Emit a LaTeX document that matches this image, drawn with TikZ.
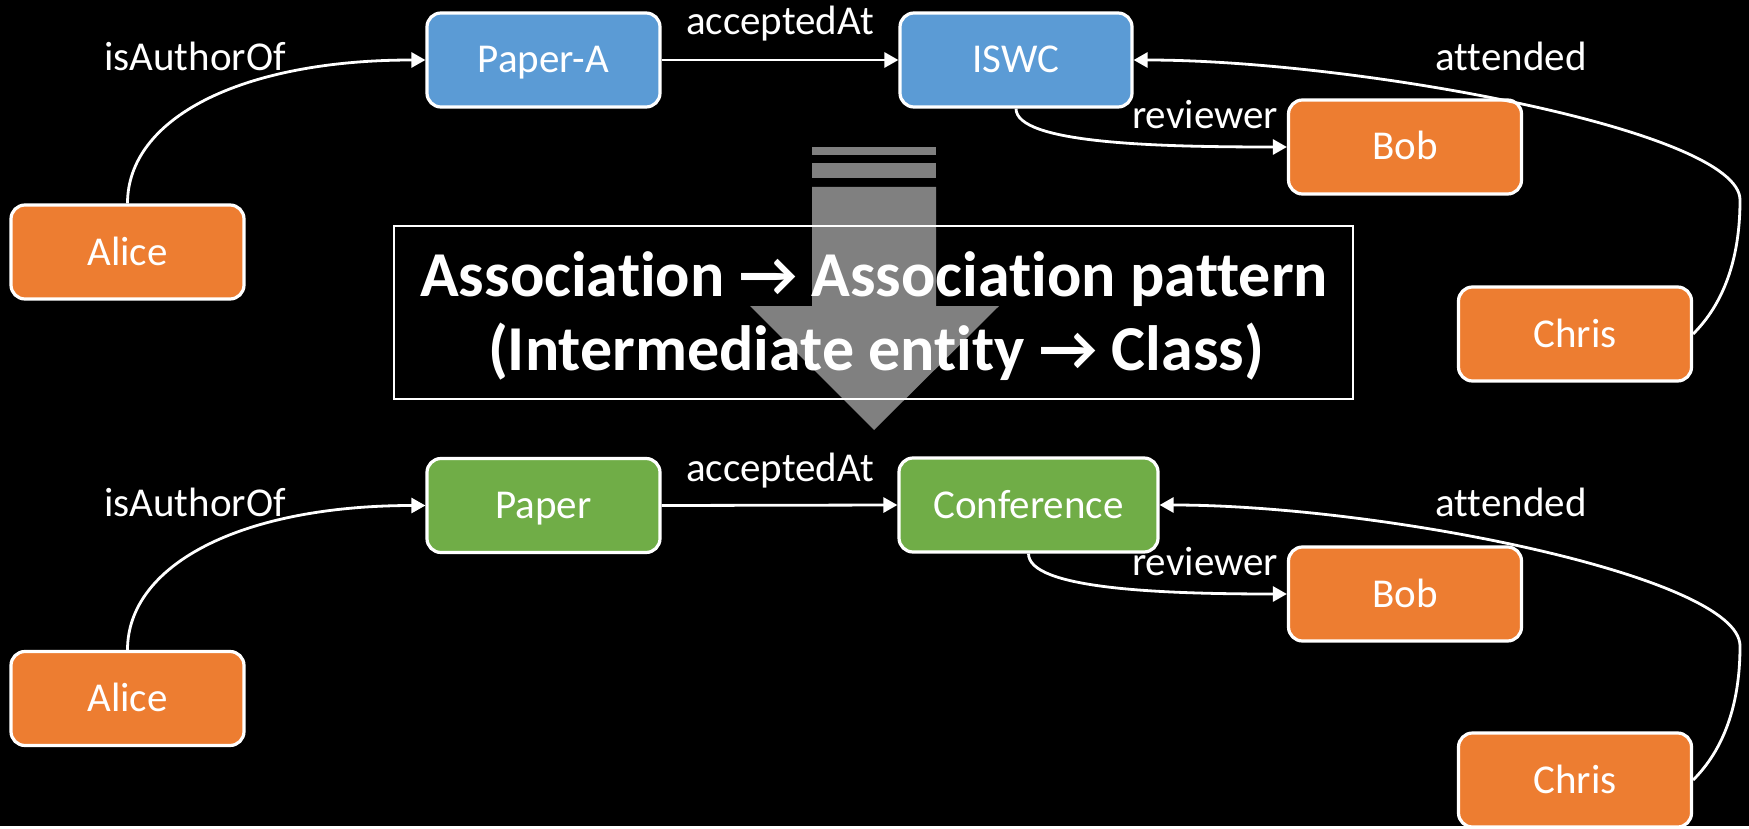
\documentclass[tikz,border=0pt]{standalone}
\usepackage{fontspec}
\setmainfont{Carlito}[Ligatures=NoCommon]
\usetikzlibrary{arrows.meta}
\definecolor{nblue}{RGB}{91,155,213}
\definecolor{norange}{RGB}{237,125,49}
\definecolor{ngreen}{RGB}{112,173,71}
\begin{document}
\begin{tikzpicture}[x=0.5pt,y=0.5pt,
  ent/.style={draw=white, line width=1.6pt, rounded corners=7pt, minimum width=116.5pt, minimum height=47pt, text=white, font=\fontsize{20.5}{24}\selectfont, text height=13pt, text depth=0pt, inner sep=0pt},
  cblue/.style={fill=nblue},
  corange/.style={fill=norange},
  cgreen/.style={fill=ngreen},
  lbl/.style={text=white, font=\fontsize{20.5}{24}\selectfont, anchor=base, inner sep=0pt},
  arr/.style={draw=white, line width=1.4pt, -{Triangle[length=7pt,width=7.5pt]}},
  ttl/.style={text=white, font=\fontsize{32}{38}\selectfont\bfseries, anchor=base, inner sep=0pt},
  grayarrow/.style={fill=white, fill opacity=0.5}
]
\fill[black] (0,0) rectangle (1749,-826);

% top graph
\node[ent, corange] (alice1) at (127.5,-252) {Alice};
\node[ent, cblue] (papera) at (543.5,-60) {Paper-A};
\node[ent, cblue, minimum width=116pt] (iswc) at (1016,-60) {ISWC};
\node[ent, corange] (bob1) at (1405,-147) {Bob};
\node[ent, corange] (chris1) at (1575,-334) {Chris};

\draw[arr] (alice1.north) .. controls +(0,85) and +(-185,0) .. (papera.west);
\draw[arr] (papera.east) -- (iswc.west);
\draw[arr] (iswc.south) .. controls +(0,-35) and +(-130,0) .. (bob1.west);
\coordinate (att1) at (1740,-200);
\draw[arr] (chris1.east) .. controls +(30,30) and +(0,-60) .. (att1) .. controls +(0,70) and +(220,0) .. (iswc.east);

\node[lbl] (l1) at (195,-71) {isAuthorOf};
\node[lbl] (l2) at (780,-35) {acceptedAt};
\node[lbl] (l3) at (1205,-129) {reviewer};
\node[lbl] (l4) at (1511,-71) {attended};

% bottom graph
\node[ent, corange] (alice2) at (127.5,-698.5) {Alice};
\node[ent, cgreen] (paper) at (543.5,-505.5) {Paper};
\node[ent, cgreen, minimum width=129.5pt] (conf) at (1028.5,-505) {Conference};
\node[ent, corange] (bob2) at (1405,-594) {Bob};
\node[ent, corange] (chris2) at (1575,-780) {Chris};

\draw[arr] (alice2.north) .. controls +(0,85) and +(-185,0) .. (paper.west);
\draw[arr] (paper.east) -- (conf.west);
\draw[arr] (conf.south) .. controls +(0,-35) and +(-130,0) .. (bob2.west);
\coordinate (att2) at (1740,-646);
\draw[arr] (chris2.east) .. controls +(30,30) and +(0,-60) .. (att2) .. controls +(0,70) and +(220,0) .. (conf.east);

\node[lbl] (m1) at (195,-516) {isAuthorOf};
\node[lbl] (m2) at (780,-481) {acceptedAt};
\node[lbl] (m3) at (1205,-575) {reviewer};
\node[lbl] (m4) at (1511,-516) {attended};

% title box and transformation arrow
\node[draw=white, line width=1pt, minimum width=479.5pt, minimum height=86.5pt, inner sep=0pt] (tbox) at (873.5,-312.5) {};
\fill[grayarrow] (812,-147) rectangle (936,-155);
\fill[grayarrow] (812,-163) rectangle (936,-178);
\fill[grayarrow] (812,-187) -- (936,-187) -- (936,-306) -- (999,-306) -- (874,-430) -- (750,-306) -- (812,-306) -- cycle;
\node[ttl] (t1) at (874,-296) {Association → Association pattern};
\node[ttl] (t2) at (876,-370) {(Intermediate entity → Class)};
\end{tikzpicture}
\end{document}
